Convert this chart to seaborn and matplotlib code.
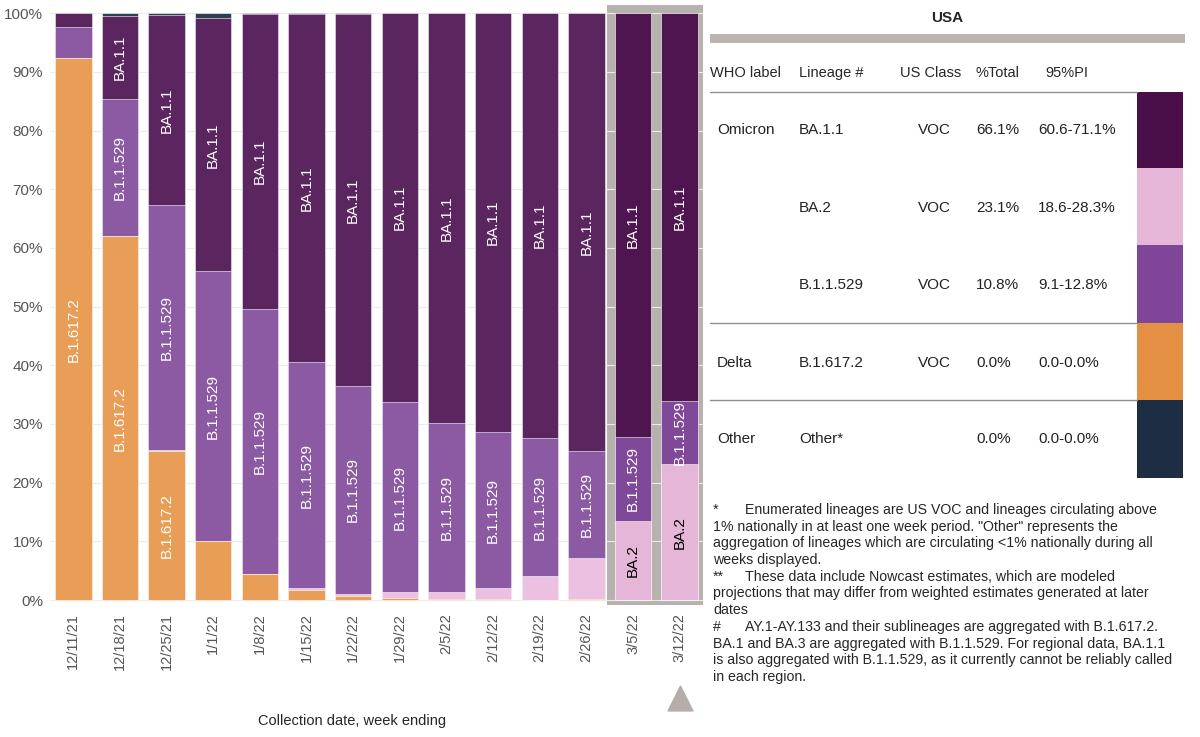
import numpy as np
import pandas as pd
import matplotlib
matplotlib.use("Agg")
import matplotlib.pyplot as plt
from matplotlib.transforms import blended_transform_factory
import seaborn as sns

# weekly share of each lineage (%)
weeks = ["12/11/21", "12/18/21", "12/25/21", "1/1/22", "1/8/22", "1/15/22", "1/22/22",
         "1/29/22", "2/5/22", "2/12/22", "2/19/22", "2/26/22", "3/5/22", "3/12/22"]
delta = [92.3, 62.0, 25.4, 10.0, 4.4, 1.7, 0.6, 0.4, 0.1, 0.1, 0.0, 0.2, 0.0, 0.0]
ba2 = [0.0, 0.0, 0.1, 0.1, 0.1, 0.3, 0.5, 0.9, 1.2, 1.9, 4.1, 7.0, 13.5, 23.1]
b11529 = [5.3, 23.3, 41.8, 45.9, 45.1, 38.5, 35.3, 32.4, 28.9, 26.6, 23.5, 18.2, 14.3, 10.8]
ba11 = [2.4, 14.3, 32.4, 43.1, 50.2, 59.4, 63.5, 66.3, 69.8, 71.4, 72.4, 74.6, 72.2, 66.1]
other = [0.0, 0.4, 0.3, 0.9, 0.2, 0.1, 0.1, 0.0, 0.0, 0.0, 0.0, 0.0, 0.0, 0.0]
nowcast_weeks = ["3/5/22", "3/12/22"]

lineages = ["B.1.617.2", "BA.2", "B.1.1.529", "BA.1.1", "Other"]  # bottom to top
series = [delta, ba2, b11529, ba11, other]

# table on the right
tab_who = ["Omicron", "", "", "Delta", "Other"]
tab_lineage = ["BA.1.1", "BA.2", "B.1.1.529", "B.1.617.2", "Other*"]
tab_class = ["VOC", "VOC", "VOC", "VOC", ""]
tab_total = ["66.1%", "23.1%", "10.8%", "0.0%", "0.0%"]
tab_pi = ["60.6-71.1%", "18.6-28.3%", "9.1-12.8%", "0.0-0.0%", "0.0-0.0%"]
tab_headers = ["WHO label", "Lineage #", "US Class", "%Total", "95%PI"]

col_normal = {"B.1.617.2": "#E99E57", "BA.2": "#EBC0E0", "B.1.1.529": "#8C5AA3",
              "BA.1.1": "#5B2560", "Other": "#2E3F52"}
col_nowcast = {"B.1.617.2": "#E3913F", "BA.2": "#E5B6D7", "B.1.1.529": "#7F4899",
               "BA.1.1": "#4F1550", "Other": "#1C2D44"}
col_swatch = {"BA.1.1": "#4A0E48", "BA.2": "#E6B6D6", "B.1.1.529": "#7F4598",
              "B.1.617.2": "#E39044", "Other*": "#1C2D44"}

sns.set_style("white")
plt.rcParams["font.family"] = ["Liberation Sans", "DejaVu Sans"]

df = pd.DataFrame(dict(zip(lineages, series)))
df["week"] = weeks
cum = df[lineages].cumsum(axis=1)

fig = plt.figure(figsize=(12, 7.37), dpi=100)
ax = fig.add_axes([50 / 1200, 1 - 605 / 737, 653 / 1200, 600 / 737])

# nowcast highlight box
ax.axvspan(11.45, 13.52, color="#B8B2AE", zorder=0, lw=0)

# stacked bars: draw cumulative totals from the top layer down
for name in lineages[::-1]:
    d = pd.DataFrame({"week": weeks, "val": cum[name].values})
    pal = {w: (col_nowcast[name] if w in nowcast_weeks else col_normal[name]) for w in weeks}
    sns.barplot(data=d, x="week", y="val", hue="week", palette=pal, order=weeks,
                legend=False, width=0.78, saturation=1, errorbar=None,
                edgecolor="white", linewidth=0.4, ax=ax, zorder=2)

# segment labels
for name, vals in zip(lineages, series):
    base = cum[name].values - np.array(vals)
    for i, v in enumerate(vals):
        if v >= 10.5:
            ax.text(i, base[i] + v / 2, name, rotation=90, ha="center", va="center",
                    fontsize=11, color="black" if name == "BA.2" else "white", zorder=3)

ax.set_xlim(-0.5, 13.5)
ax.set_ylim(-0.85, 101.4)
ax.set_yticks(np.arange(0, 101, 10))
ax.set_yticklabels([f"{t}%" for t in range(0, 101, 10)])
ax.tick_params(axis="y", length=0, pad=5, labelsize=11, labelcolor="#555555")
ax.tick_params(axis="x", length=0, pad=6, labelsize=10.5, labelcolor="#555555", rotation=90)
ax.yaxis.grid(True, color="#ECECEC", lw=0.8)
ax.set_axisbelow(True)
ax.set_xlabel("Collection date, week ending", fontsize=10.5)
ax.xaxis.set_label_coords((352 - 50) / 653, (605 - 721) / 600)
ax.xaxis.label.set_va("center")
ax.set_ylabel("")
sns.despine(ax=ax, left=True, bottom=True)

# triangle marker under the latest week
tr = blended_transform_factory(ax.transData, ax.transAxes)
ax.scatter([13], [-0.155], marker="^", s=320, color="#B5ADAA", transform=tr, clip_on=False)

# right-hand table, in pixel coordinates
tab = fig.add_axes([0, 0, 1, 1], zorder=-1)
tab.set_xlim(0, 1200)
tab.set_ylim(737, 0)
tab.axis("off")

tab.text(947, 18, "USA", ha="center", va="center", fontsize=11, fontweight="bold")
tab.fill_between([710, 1185], 34, 43, color="#BCB4B0", lw=0)
for x, h in zip([710, 799, 900, 975, 1045], tab_headers):
    tab.text(x, 73, h, ha="left", va="center", fontsize=10.5)
for y in [92, 323, 400]:
    tab.plot([710, 1137], [y, y], color="#8F8F8F", lw=1)

row_y = [130, 208, 285, 363, 439]
sw_edges = [92, 168, 245, 323, 400, 478]
for k in range(5):
    y = row_y[k]
    tab.text(717, y, tab_who[k], ha="left", va="center", fontsize=11, color="#222222")
    tab.text(799, y, tab_lineage[k], ha="left", va="center", fontsize=11, color="#222222")
    tab.text(918, y, tab_class[k], ha="left", va="center", fontsize=11, color="#222222")
    tab.text(976, y, tab_total[k], ha="left", va="center", fontsize=11, color="#222222")
    tab.text(1038, y, tab_pi[k], ha="left", va="center", fontsize=11, color="#222222")
    tab.fill_between([1137, 1183], sw_edges[k], sw_edges[k + 1],
                     color=col_swatch[tab_lineage[k]], lw=0)

notes = [
    ("*", "Enumerated lineages are US VOC and lineages circulating above"),
    ("", "1% nationally in at least one week period. \"Other\" represents the"),
    ("", "aggregation of lineages which are circulating <1% nationally during all"),
    ("", "weeks displayed."),
    ("**", "These data include Nowcast estimates, which are modeled"),
    ("", "projections that may differ from weighted estimates generated at later"),
    ("", "dates"),
    ("#", "AY.1-AY.133 and their sublineages are aggregated with B.1.617.2."),
    ("", "BA.1 and BA.3 are aggregated with B.1.1.529. For regional data, BA.1.1"),
    ("", "is also aggregated with B.1.1.529, as it currently cannot be reliably called"),
    ("", "in each region."),
]
for j, (mark, line) in enumerate(notes):
    y = 510 + j * 16.7
    if mark:
        tab.text(713, y, mark, ha="left", va="center", fontsize=10.2)
        tab.text(745, y, line, ha="left", va="center", fontsize=10.2)
    else:
        tab.text(713, y, line, ha="left", va="center", fontsize=10.2)

fig.savefig("out.png", dpi=100)
